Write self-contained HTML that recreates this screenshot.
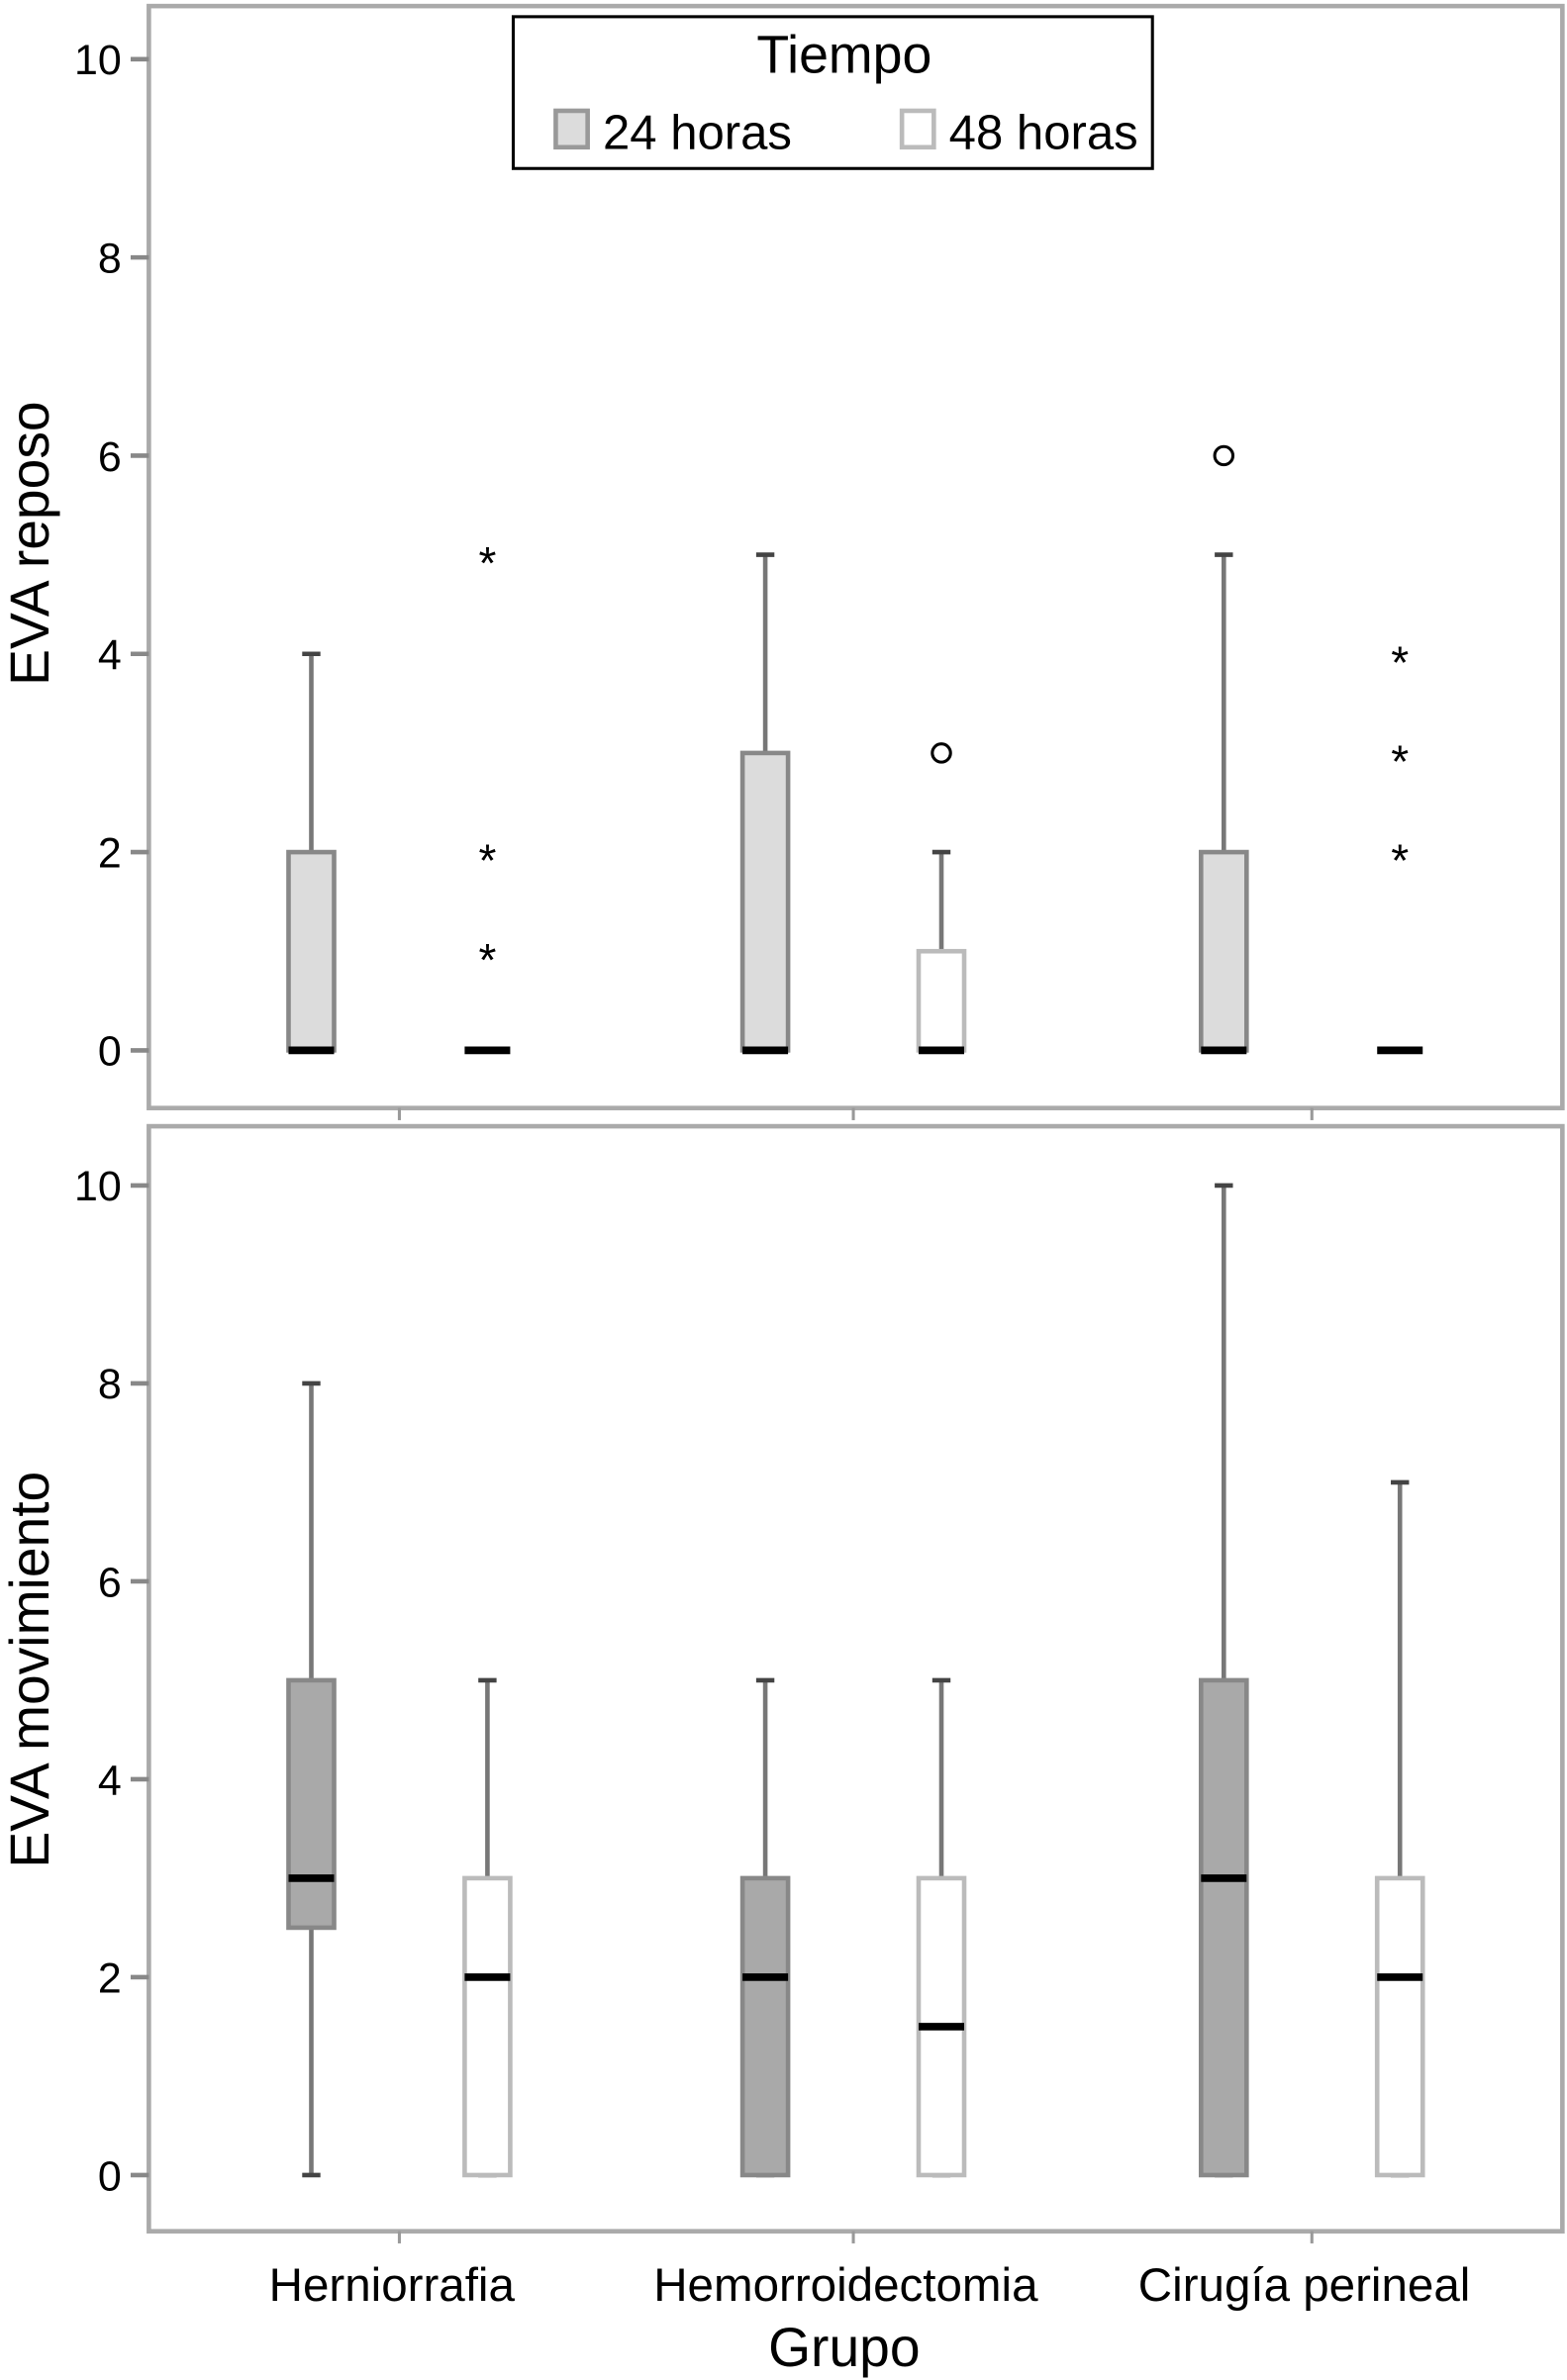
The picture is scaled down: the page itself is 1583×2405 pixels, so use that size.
<!DOCTYPE html>
<html><head><meta charset="utf-8"><style>
html,body{margin:0;padding:0;background:#fff}
svg{display:block;font-family:"Liberation Sans",Arial,sans-serif}
</style></head><body>
<svg id="chart" width="1583" height="2405" viewBox="0 0 1032 1568" xmlns="http://www.w3.org/2000/svg">
<g id="g"></g>
</svg>
<script>
const categories = ["Herniorrafia","Hemorroidectomia","Cirugía perineal"];
const yTicks = [0,2,4,6,8,10];
// [min, q1, median, q3, max]
const reposo24 = [[0,0,0,2,4],[0,0,0,3,5],[0,0,0,2,5]];
const reposo48 = [[0,0,0,0,0],[0,0,0,1,2],[0,0,0,0,0]];
const reposo24Out = [[],[],[{v:6,t:"o"}]];
const reposo48Out = [[{v:5,t:"*"},{v:2,t:"*"},{v:1,t:"*"}],[{v:3,t:"o"}],[{v:4,t:"*"},{v:3,t:"*"},{v:2,t:"*"}]];
const mov24 = [[0,2.5,3,5,8],[0,0,2,3,5],[0,0,3,5,10]];
const mov48 = [[0,0,2,3,5],[0,0,1.5,3,5],[0,0,2,3,7]];

const NS="http://www.w3.org/2000/svg";
const g=document.getElementById('g');
function mk(tag,attrs,parent){const e=document.createElementNS(NS,tag);for(const k in attrs)e.setAttribute(k,attrs[k]);(parent||g).appendChild(e);return e;}
const catX=[263,562,864];
const xOff=58, bw=30;
function scaleY(top0,top10){return v=>top0+(top10-top0)*v/10;}
const panels=[
 {y:scaleY(692,39),top:4,bot:730,title:"EVA reposo",tc:358,s24:reposo24,s48:reposo48,o24:reposo24Out,o48:reposo48Out,fill24:"#dcdcdc",name:"reposo"},
 {y:scaleY(1433,781),top:742,bot:1470,title:"EVA movimiento",tc:1100,s24:mov24,s48:mov48,o24:[[],[],[]],o48:[[],[],[]],fill24:"#a9a9a9",name:"movimiento"}
];
panels.forEach(p=>{
 const f=mk('rect',{x:98,y:p.top,width:931,height:p.bot-p.top,fill:"none",stroke:"#aaa","stroke-width":3});
 
 
 yTicks.forEach(t=>{
  const yy=p.y(t);
  mk('line',{x1:86,x2:98,y1:yy,y2:yy,stroke:"#888","stroke-width":3});
  const tx=mk('text',{x:80,y:yy+10,"text-anchor":"end","font-size":28,fill:"#000"});
  tx.textContent=t;
  
  
 });
 catX.forEach(cx=>mk('line',{x1:cx,x2:cx,y1:p.bot,y2:p.bot+8,stroke:"#999","stroke-width":2}));
 const at=mk('text',{x:0,y:0,transform:`translate(32,${p.tc}) rotate(-90)`,"text-anchor":"middle","font-size":36,fill:"#000"});
 at.textContent=p.title;
 
 
 [[p.s24,-xOff,p.fill24,p.o24,"24h"],[p.s48,xOff,"#fff",p.o48,"48h"]].forEach(([ser,off,fill,outs,lab])=>{
  ser.forEach((d,i)=>{
   const cx=catX[i]+off;
   const grp=mk('g',{});
   
   
   const [mn,q1,md,q3,mx]=d.map(p.y);
   mk('line',{x1:cx,x2:cx,y1:mx,y2:q3,stroke:"#777","stroke-width":3},grp);
   mk('line',{x1:cx,x2:cx,y1:q1,y2:mn,stroke:"#777","stroke-width":3},grp);
   mk('line',{x1:cx-6,x2:cx+6,y1:mx,y2:mx,stroke:"#444","stroke-width":3},grp);
   mk('line',{x1:cx-6,x2:cx+6,y1:mn,y2:mn,stroke:"#444","stroke-width":3},grp);
   mk('rect',{x:cx-bw/2,y:q3,width:bw,height:Math.max(q1-q3,0),fill:fill,stroke:fill=="#fff"?"#bbb":"#888","stroke-width":3},grp);
   mk('line',{x1:cx-bw/2,x2:cx+bw/2,y1:md,y2:md,stroke:"#000","stroke-width":5},grp);
   outs[i].forEach(o=>{
    const yy=p.y(o.v);
    if(o.t==="o"){const c=mk('circle',{cx:cx,cy:yy,r:6,fill:"none",stroke:"#000","stroke-width":2},grp);}
    else{const s=mk('text',{x:cx,y:yy+16,"text-anchor":"middle","font-size":30,fill:"#000"},grp);s.textContent="*";}
   });
  });
 });
});
categories.forEach((c,i)=>{
 const t=mk('text',{x:catX[i]-5,y:1516,"text-anchor":"middle","font-size":31,fill:"#000"});
 t.textContent=c;
 
 
});
const xt=mk('text',{x:556,y:1559,"text-anchor":"middle","font-size":36,fill:"#000"});
xt.textContent="Grupo";


// legend
const lg=mk('g',{});


mk('rect',{x:338,y:11,width:421,height:100,fill:"#fff",stroke:"#000","stroke-width":2},lg);
const lt=mk('text',{x:556,y:48,"text-anchor":"middle","font-size":35,fill:"#000"},lg);
lt.textContent="Tiempo";


const e1=mk('g',{},lg);


mk('rect',{x:366,y:73,width:21,height:24,fill:"#dcdcdc",stroke:"#999","stroke-width":3},e1);
const t1=mk('text',{x:397,y:98,"font-size":32,fill:"#000"},e1);t1.textContent="24 horas";
const e2=mk('g',{},lg);


mk('rect',{x:594,y:73,width:21,height:24,fill:"#fff",stroke:"#bbb","stroke-width":3},e2);
const t2=mk('text',{x:625,y:98,"font-size":32,fill:"#000"},e2);t2.textContent="48 horas";
</script>
</body></html>
